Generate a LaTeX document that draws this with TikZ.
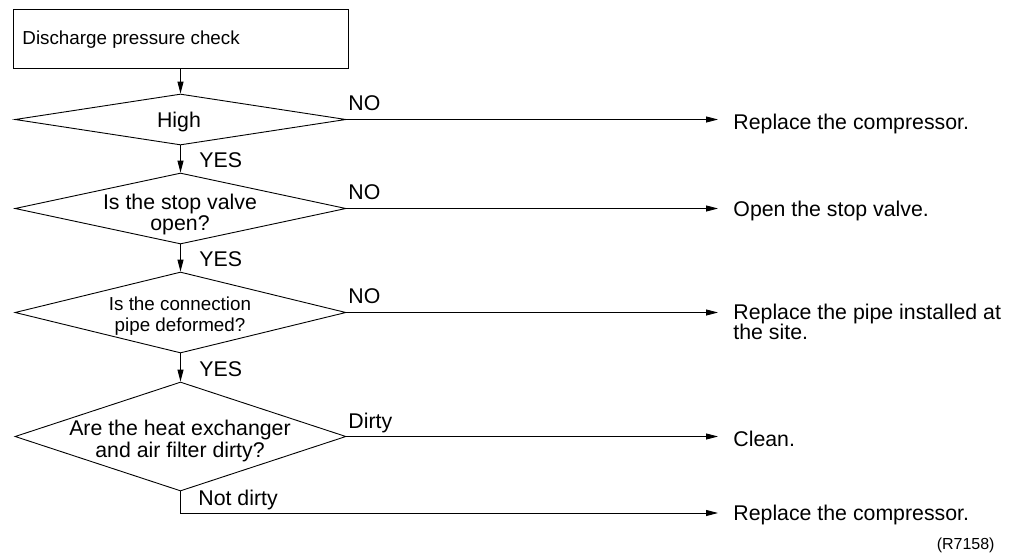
\documentclass[tikz,border=0pt]{standalone}
\usepackage{fontspec}
\setmainfont{Liberation Sans}
\usetikzlibrary{arrows.meta,shapes.geometric}
\begin{document}
\begin{tikzpicture}[x=1pt,y=-1pt,line width=0.9pt,
  dia/.style={draw,diamond,inner sep=0pt,minimum width=331pt},
  txt/.style={inner sep=0pt,anchor=base,font=\fontsize{21.3}{22}\selectfont},
  txtw/.style={txt,anchor=base west},
  small/.style={font=\fontsize{18.8}{20}\selectfont},
  arr/.style={-{Triangle[length=12pt,width=6pt]}}]
\useasboundingbox (0,0) rectangle (1013,554);
% start box
\node[draw,inner sep=0pt,minimum width=335pt,minimum height=59pt] (box) at (180.5,38.5) {};
\node[txtw,small] (boxt) at (22,44) {Discharge pressure check};
% diamonds
\node[dia,minimum height=51pt] (d1) at (180.5,119.5) {};
\node[dia,minimum height=71pt] (d2) at (180.5,208.5) {};
\node[dia,minimum height=81pt] (d3) at (180.5,312.5) {};
\node[dia,minimum height=109pt] (d4) at (180.5,436.5) {};
\node[txt] (d1t) at (179,127) {High};
\node[txt] (d2t1) at (180,209) {Is the stop valve};
\node[txt] (d2t2) at (180,230) {open?};
\node[txt,small] (d3t1) at (180,310) {Is the connection};
\node[txt,small] (d3t2) at (180,331) {pipe deformed?};
\node[txt] (d4t1) at (180,435) {Are the heat exchanger};
\node[txt] (d4t2) at (180,457) {and air filter dirty?};
% results
\node[txtw] (r1) at (733,129) {Replace the compressor.};
\node[txtw] (r2) at (733,216) {Open the stop valve.};
\node[txtw] (r3) at (733,319) {Replace the pipe installed at};
\node[txtw] (r3b) at (733,339) {the site.};
\node[txtw] (r4) at (733,446) {Clean.};
\node[txtw] (r5) at (733,520) {Replace the compressor.};
\node[inner sep=0pt,anchor=base east,font=\fontsize{16}{17}\selectfont] (ref) at (995,549) {(R7158)};
% arrow tips
\coordinate (e1) at (718,120);
\coordinate (e2) at (718,209);
\coordinate (e3) at (718,313);
\coordinate (e4) at (718,437);
\coordinate (e5) at (718,513);
% vertical flow
\draw[arr] (box.south) -- (d1.north);
\draw[arr] (d1.south) -- (d2.north);
\draw[arr] (d2.south) -- (d3.north);
\draw[arr] (d3.south) -- (d4.north);
% horizontal flow
\draw[arr] (d1.east) -- (d1.east -| e1);
\draw[arr] (d2.east) -- (d2.east -| e2);
\draw[arr] (d3.east) -- (d3.east -| e3);
\draw[arr] (d4.east) -- (d4.east -| e4);
\draw[arr] (d4.south) |- (e5);
% labels
\node[txtw] (n1) at (348,110) {NO};
\node[txtw] (n2) at (348,199) {NO};
\node[txtw] (n3) at (348,303) {NO};
\node[txtw] (n4) at (348,428) {Dirty};
\node[txtw] (y1) at (199,167) {YES};
\node[txtw] (y2) at (199,266) {YES};
\node[txtw] (y3) at (199,376) {YES};
\node[txtw] (nd) at (198,505) {Not dirty};
\end{tikzpicture}
\end{document}
